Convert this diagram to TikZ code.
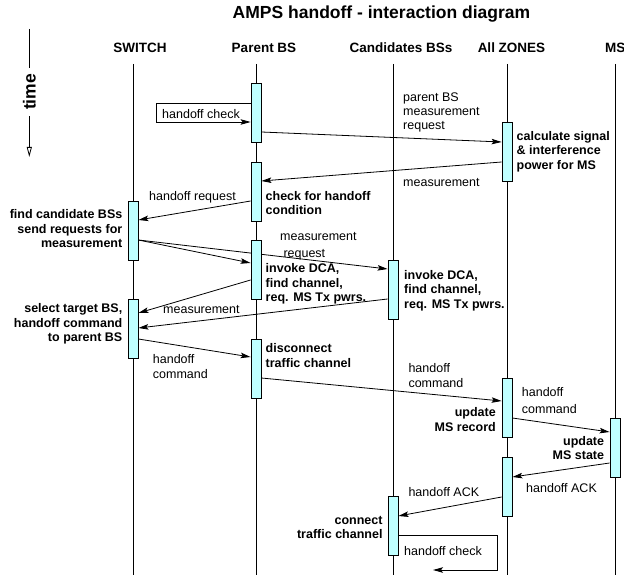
\documentclass[tikz,border=0pt]{standalone}
\usepackage{fontspec}
\setmainfont{Liberation Sans}
\usetikzlibrary{arrows.meta}
\definecolor{actfill}{RGB}{191,255,255}
\pgfdeclarelayer{bglayer}
\pgfsetlayers{bglayer,main}
\begin{document}
\begin{tikzpicture}[x=1pt,y=-1pt,
  life/.style={line width=0.8pt},
  act/.style={draw, line width=0.8pt, fill=actfill, minimum width=10pt, minimum height=59pt, inner sep=0pt},
  msg/.style={line width=0.8pt, -{Stealth[length=10pt,width=5.5pt,inset=2pt]}},
  lbl/.style={font=\fontsize{12.5}{14.5}\selectfont, inner sep=0pt, execute at begin node=\strut},
  blbl/.style={lbl, font=\fontsize{12.5}{14.5}\selectfont\bfseries},
  hdr/.style={font=\fontsize{13.5}{16}\selectfont\bfseries, inner sep=0pt, anchor=base},
]
\useasboundingbox (0,0) rectangle (624,575);

% title and headers
\node[font=\fontsize{17.5}{20}\selectfont\bfseries, inner sep=0pt, anchor=base] (title) at (381.5,19) {AMPS handoff - interaction diagram};
\node[hdr] (hS) at (140,53) {SWITCH};
\node[hdr] (hP) at (264,53) {Parent BS};
\node[hdr] (hC) at (401,53) {Candidates BSs};
\node[hdr] (hZ) at (511.5,53) {All ZONES};
\node[hdr, anchor=base west] (hM) at (605,53) {MS};

% time axis
\node[rotate=90, font=\fontsize{17.5}{20}\selectfont\bfseries, inner xsep=6pt, inner ysep=0pt] (time) at (29.3,92) {time};
\coordinate (ttop) at (29.3,29);
\coordinate (tbot) at (29.3,157);
\draw[line width=0.8pt] (ttop) -- (time.east);
\draw[line width=0.8pt, -{Triangle[open,length=10pt,width=5pt]}] (time.west) -- (tbot);

% lifelines
\coordinate (sT) at (133,64);  \coordinate (sB) at (133,575);
\coordinate (pT) at (256,64);  \coordinate (pB) at (256,575);
\coordinate (cT) at (393,64);  \coordinate (cB) at (393,575);
\coordinate (zT) at (507,64);  \coordinate (zB) at (507,575);
\coordinate (mT) at (615,64);  \coordinate (mB) at (615,575);
\begin{pgfonlayer}{bglayer}
\draw[life] (sT) -- (sB);
\draw[life] (pT) -- (pB);
\draw[life] (cT) -- (cB);
\draw[life] (zT) -- (zB);
\draw[life] (mT) -- (mB);
\end{pgfonlayer}

% activation boxes
\node[act] (p1) at (256,112.5) {};
\node[act] (p2) at (256,191.5) {};
\node[act] (s1) at (133,230.5) {};
\node[act] (p3) at (256,270) {};
\node[act] (c1) at (393,289.5) {};
\node[act] (s2) at (133,328.5) {};
\node[act] (p4) at (256,368.5) {};
\node[act] (z1) at (507,152) {};
\node[act] (z2) at (507,407.5) {};
\node[act] (m1) at (615,447.5) {};
\node[act] (z3) at (507,486.5) {};
\node[act] (c2) at (393,525.5) {};

% messages
\draw[msg] (p1.west |- 0,103) -- ++(-94,0) -- ++(0,19) -- (p1.west |- 0,122);
\draw[msg] (p1.east |- 0,132) -- (z1.west |- 0,142);
\draw[msg] (z1.west |- 0,162) -- (p2.east |- 0,181);
\draw[msg] (p2.west |- 0,201) -- (s1.east |- 0,220);
\draw[msg] (s1.east |- 0,240) -- (p3.west |- 0,263);
\begin{pgfonlayer}{bglayer}
\draw[msg] (s1.east |- 0,240) -- (c1.west |- 0,269);
\end{pgfonlayer}
\draw[msg] (p3.west |- 0,280) -- (s2.east |- 0,313);
\draw[msg] (c1.west |- 0,299) -- (s2.east |- 0,328);
\draw[msg] (s2.east |- 0,339) -- (p4.west |- 0,357);
\draw[msg] (p4.east |- 0,378) -- (z2.west |- 0,401);
\draw[msg] (z2.east |- 0,418) -- (m1.west |- 0,432);
\draw[msg] (m1.west |- 0,463) -- (z3.east |- 0,477);
\draw[msg] (z3.west |- 0,497) -- (c2.east |- 0,516);
\coordinate (loopend) at (433,570);
\draw[msg] (c2.east |- 0,535) -- ++(99,0) -- ++(0,35) -- (loopend);

% message labels
\node[lbl, anchor=north west] (t1) at (162,108) {handoff check};
\node[lbl, anchor=north west, align=left, font=\fontsize{12.5}{14}\selectfont] (t2) at (403,93) {parent BS\\measurement\\request};
\node[lbl, anchor=north west] (t3) at (403,176) {measurement};
\node[lbl, anchor=north east] (t4) at (236,190) {handoff request};
\node[lbl, anchor=north west] (t5) at (280,230) {measurement};
\node[lbl, anchor=north west] (t5b) at (283.3,246.7) {request};
\node[lbl, anchor=north west] (t6) at (163,303.3) {measurement};
\node[lbl, anchor=north west, align=left, font=\fontsize{12.5}{15}\selectfont] (t7) at (152.7,354) {handoff\\command};
\node[lbl, anchor=north west, align=left, font=\fontsize{12.5}{15}\selectfont] (t8) at (408.3,363.3) {handoff\\command};
\node[lbl, anchor=north west, align=left, font=\fontsize{12.5}{17}\selectfont] (t9) at (521.7,387.3) {handoff\\command};
\node[lbl, anchor=north west] (t10) at (526,481.7) {handoff ACK};
\node[lbl, anchor=north west] (t11) at (408.3,486) {handoff ACK};
\node[lbl, anchor=north west] (t12) at (404,545) {handoff check};

% activity labels
\node[blbl, anchor=north west, align=left] (b1) at (516.5,131) {calculate signal\\\& interference\\power for MS};
\node[blbl, anchor=north west, align=left] (b2) at (265.5,191) {check for handoff\\condition};
\node[blbl, anchor=north east, align=right] (b3) at (122.5,209.3) {find candidate BSs\\send requests for\\measurement};
\node[blbl, anchor=north west, align=left] (b4) at (265.5,263.3) {invoke DCA,\\find channel,\\req. MS Tx pwrs.};
\node[blbl, anchor=north west, align=left] (b5) at (404,270) {invoke DCA,\\find channel,\\req. MS Tx pwrs.};
\node[blbl, anchor=north east, align=right] (b6) at (122.5,303.3) {select target BS,\\handoff command\\to parent BS};
\node[blbl, anchor=north west, align=left] (b7) at (265.5,343.3) {disconnect\\traffic channel};
\node[blbl, anchor=north east, align=right] (b8) at (496,407.3) {update\\MS record};
\node[blbl, anchor=north east, align=right] (b9) at (604.3,436) {update\\MS state};
\node[blbl, anchor=north east, align=right] (b10) at (382.7,515.7) {connect\\traffic channel};
\end{tikzpicture}
\end{document}
